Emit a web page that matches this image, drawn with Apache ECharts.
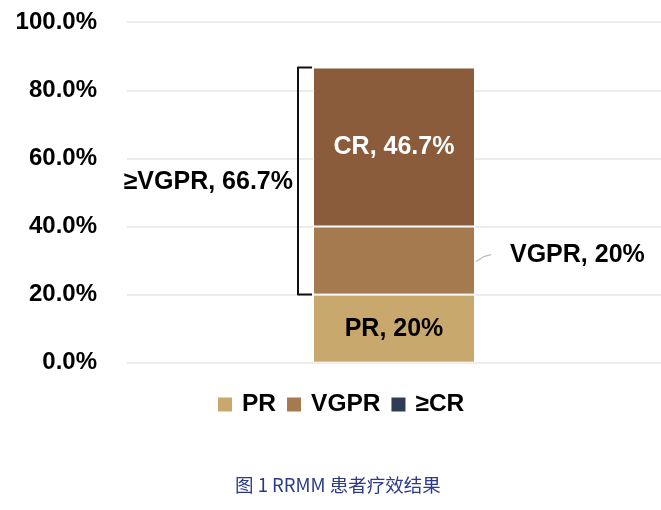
<!DOCTYPE html>
<html><head><meta charset="utf-8">
<script src="https://cdn.jsdelivr.net/npm/echarts@6/dist/echarts.min.js"></script>
<style>html,body{margin:0;padding:0;background:#fff}#c{width:661px;height:510px}</style>
</head><body><div id="c"></div>
<script>
var categories = [''];
var prValues = [20];
var vgprValues = [20];
var crValues = [46.7];
var seriesNames = ['PR', 'VGPR', '≥CR'];
var segmentLabels = ['PR, 20%', 'VGPR, 20%', 'CR, 46.7%'];
var bracketRange = [20, 86.7];
var bracketLabel = '≥VGPR, 66.7%';
var yTicks = [0, 20, 40, 60, 80, 100];
var captionText = '图 1 RRMM 患者疗效结果';

var FONT = '"Liberation Sans", Arial, sans-serif';
var chart = echarts.init(document.getElementById('c'));
chart.setOption({
  animation: false,
  title: {
    text: captionText, left: 235, top: 476, padding: 0,
    textStyle: { fontFamily: '"Noto Sans CJK SC", sans-serif', fontSize: 18.5, fontWeight: 'normal', color: '#2B3A8A' }
  },
  legend: {
    left: 216, top: 392, padding: 0, itemWidth: 16, itemHeight: 16, itemGap: 9, icon: 'rect',
    textStyle: { fontFamily: FONT, fontSize: 24.5, fontWeight: 'bold', color: '#000', padding: [0, 0, 0, 4] },
    data: [
      { name: seriesNames[0], itemStyle: { color: '#C9A86D' } },
      { name: seriesNames[1], itemStyle: { color: '#A57A4F' } },
      { name: seriesNames[2], itemStyle: { color: '#2E3C55' } }
    ]
  },
  grid: { left: 127, right: 0, top: 22.2, bottom: 510 - 362.7, containLabel: false },
  xAxis: { type: 'category', data: categories, axisLine: { show: false }, axisTick: { show: false }, axisLabel: { show: false } },
  yAxis: {
    type: 'value', min: 0, max: 100, interval: 20,
    axisLine: { show: false }, axisTick: { show: false },
    splitLine: { lineStyle: { color: '#E6E6E6', width: 1.5 } },
    axisLabel: { margin: 30, fontFamily: FONT, fontSize: 24, fontWeight: 'bold', color: '#000',
      formatter: function (v) { return v.toFixed(1) + '%'; } }
  },
  series: [
    { name: seriesNames[0], type: 'bar', stack: 's', barWidth: 162, data: prValues,
      itemStyle: { color: '#C9A86D', borderColor: '#fff', borderWidth: 1 },
      label: { show: true, position: 'inside', formatter: segmentLabels[0], fontFamily: FONT, fontSize: 25, fontWeight: 'bold', color: '#000' } },
    { name: seriesNames[1], type: 'bar', stack: 's', barWidth: 162, data: vgprValues,
      itemStyle: { color: '#A57A4F', borderColor: '#fff', borderWidth: 1 } },
    { name: seriesNames[2], type: 'bar', stack: 's', barWidth: 162, data: crValues,
      itemStyle: { color: '#8A5C3B', borderColor: '#fff', borderWidth: 1 },
      label: { show: true, position: 'inside', formatter: segmentLabels[2], fontFamily: FONT, fontSize: 25, fontWeight: 'bold', color: '#fff' } },
    { type: 'custom', name: 'annot', silent: true, z: 10,
      data: [[0, bracketRange[0], bracketRange[1], vgprValues[0]]],
      renderItem: function (params, api) {
        var lo = api.coord([0, api.value(1)]);
        var hi = api.coord([0, api.value(2)]);
        var half = 81;
        var xr = lo[0] - half;
        var bx = xr - 15;
        var vMid = api.coord([0, prValues[0] + api.value(3) / 2]);
        var barR = lo[0] + half;
        return { type: 'group', children: [
          { type: 'polyline', shape: { points: [[xr - 1, hi[1]], [bx, hi[1]], [bx, lo[1]], [xr - 1, lo[1]]] },
            style: { stroke: '#111', lineWidth: 2, fill: null, lineJoin: 'round' } },
          { type: 'text', style: { x: bx - 5, y: (hi[1] + lo[1]) / 2 + 1, text: bracketLabel, align: 'right', verticalAlign: 'middle',
            font: 'bold 25px ' + FONT, fill: '#000' } },
          { type: 'polyline', shape: { points: [[barR + 1, vMid[1] + 1], [barR + 9, vMid[1] - 4], [barR + 16, vMid[1] - 6]] },
            style: { stroke: '#BBBBBB', lineWidth: 1.2, fill: null } },
          { type: 'text', style: { x: barR + 35, y: vMid[1] - 5, text: segmentLabels[1], align: 'left', verticalAlign: 'middle',
            font: 'bold 25px ' + FONT, fill: '#000' } }
        ] };
      }
    }
  ]
});
</script></body></html>
